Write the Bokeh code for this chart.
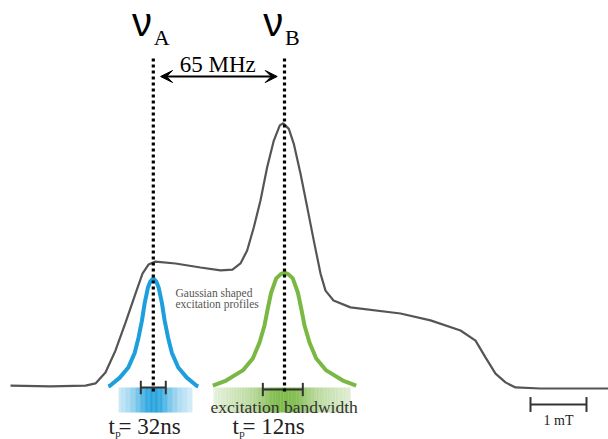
import numpy as np
from bokeh.plotting import figure
from bokeh.models import Range1d, Arrow, VeeHead
from bokeh.core.properties import value
from bokeh.embed import file_html
from bokeh.resources import INLINE

# ---- data: EPR echo-detected spectrum (field in mT, normalised intensity)
field_mT = [0.0, 0.714, 1.339, 1.518, 1.696, 1.875, 2.054, 2.232, 2.357, 2.464, 2.589,
            2.946, 3.393, 3.750, 3.964, 4.107, 4.226, 4.345, 4.464, 4.583, 4.702,
            4.809, 4.870, 4.970, 5.059, 5.179, 5.298, 5.416, 5.536, 5.625, 5.768,
            6.071, 6.964, 7.5, 8.036, 8.304, 8.482, 8.661, 8.839, 9.018, 9.464, 10.679]
intensity = [0.011, 0.008, 0.011, 0.019, 0.060, 0.143, 0.248, 0.357, 0.432, 0.466, 0.477,
             0.470, 0.455, 0.444, 0.447, 0.470, 0.519, 0.606, 0.707, 0.832, 0.932,
             0.989, 0.997, 0.976, 0.920, 0.807, 0.682, 0.556, 0.432, 0.368, 0.331,
             0.305, 0.282, 0.256, 0.218, 0.180, 0.117, 0.056, 0.023, 0.004, 0.0, 0.0]

# observer positions (mT)
nu_labels = ["A", "B"]
nu_pos = [2.55, 4.893]
separation_label = "65 MHz"

# excitation profiles (half profile: offset from centre in mT, intensity)
profA_offset = [0, 0.054, 0.095, 0.155, 0.202, 0.263, 0.330, 0.446, 0.598, 0.768, 0.804]
profA_int = [0.414, 0.402, 0.380, 0.320, 0.256, 0.192, 0.135, 0.079, 0.041, 0.011, 0.008]
profB_offset = [0, 0.071, 0.148, 0.238, 0.298, 0.357, 0.446, 0.566, 0.745, 1.042, 1.280]
profB_int = [0.436, 0.429, 0.414, 0.361, 0.301, 0.237, 0.173, 0.113, 0.068, 0.030, 0.011]

bandwidth_mT = [0.446, 0.714]
pulse_lengths = ["32ns", "12ns"]
scale_bar_mT = 1.0
scale_label = "1 mT"

BLUE = "#1c9fdc"
GREEN = "#7ab844"
DARK = "#333333"


def X(px):
    return (px - 10) / 56.0


def Y(py):
    return (388 - py) / 266.0


def TY(py, size):
    # baseline position in pixels -> data y (compensating renderer offset)
    return Y(py - 0.38 * size)


p = figure(width=608, height=439, x_range=Range1d(X(0), X(608)), y_range=Range1d(Y(439), Y(0)),
           output_backend="svg", toolbar_location=None, min_border=0,
           x_axis_type=None, y_axis_type=None)
p.grid.visible = False
p.outline_line_color = None
p.background_fill_color = "white"

serif = value("Liberation Serif")


def txt(xs, py, texts, size, font=serif, align="left", color="#222222"):
    p.text(x=xs, y=[TY(py, size)] * len(xs), text=texts, text_font=font,
           text_font_size=f"{size}px", text_align=align, text_baseline="alphabetic",
           text_color=color)


# ---- gradient bands under the profiles
def band(center, offs, ints, left, right, color, power):
    offs_full = [-o for o in offs[::-1]] + offs[1:]
    ints_full = ints[::-1] + ints[1:]
    edges = np.linspace(left, right, 90)
    mids = 0.5 * (edges[:-1] + edges[1:])
    a = np.interp(mids - center, offs_full, ints_full, left=0, right=0) / max(ints)
    a = np.clip(a, 0, 1) ** power
    p.quad(left=edges[:-1], right=edges[1:] + 0.005, top=Y(387), bottom=Y(412),
           fill_color=color, fill_alpha=a * 0.95, line_color=None)


band(nu_pos[0], profA_offset, profA_int, X(118), X(192), BLUE, 0.7)
band(nu_pos[1], profB_offset, profB_int, X(208), X(350), GREEN, 0.5)

# ---- spectrum
p.line(field_mT, intensity, line_color="#555555", line_width=2.2)

# ---- excitation profiles
for c, offs, ints, col in [(nu_pos[0], profA_offset, profA_int, BLUE),
                           (nu_pos[1], profB_offset, profB_int, GREEN)]:
    xs = [c - o for o in offs[::-1]] + [c + o for o in offs[1:]]
    ys = ints[::-1] + ints[1:]
    p.line(xs, ys, line_color=col, line_width=4)

# ---- bandwidth bars
cap = 0.025
for c, bw, yb in [(nu_pos[0], bandwidth_mT[0], Y(387)), (nu_pos[1] - 0.03, bandwidth_mT[1], Y(389))]:
    x0, x1 = c - bw / 2, c + bw / 2
    p.segment(x0=[x0, x0, x1], y0=[yb, yb - cap, yb - cap], x1=[x1, x0, x1], y1=[yb, yb + cap, yb + cap],
              line_color=DARK, line_width=2)

# ---- dotted observer lines
p.segment(x0=nu_pos, y0=[Y(58)] * 2, x1=nu_pos, y1=[Y(392)] * 2,
          line_color="black", line_width=3.2, line_dash="3 3")

# ---- nu labels
txt([n - 0.2 for n in nu_pos], 37, ["\u03bd", "\u03bd"], 40,
    font=value("Liberation Sans"), align="center", color="black")
txt([n + 0.01 for n in nu_pos], 45, nu_labels, 22, color="black")

# ---- separation arrow
p.add_layout(Arrow(start=VeeHead(size=12, fill_color="black", line_color="black"),
                   end=VeeHead(size=12, fill_color="black", line_color="black"),
                   x_start=nu_pos[0] + 0.13, y_start=Y(76), x_end=nu_pos[1] - 0.13, y_end=Y(76),
                   line_color="black", line_width=2))
txt([(nu_pos[0] + nu_pos[1]) / 2 - 0.02], 73, [separation_label], 23, align="center", color="black")

# ---- annotations
txt([X(175)], 297, ["Gaussian shaped"], 11.5, color="#555555")
txt([X(175)], 308, ["excitation profiles"], 11.5, color="#555555")
txt([X(210)], 413, ["excitation bandwidth"], 17.5, color="#333333")

# pulse lengths
tx = [X(108), X(232)]
txt(tx, 435, ["t", "t"], 23)
txt([t + 0.12 for t in tx], 437, ["p", "p"], 11)
txt([t + 0.18 for t in tx], 435, ["= " + s for s in pulse_lengths], 23)

# ---- scale bar
sx0 = X(530)
sx1 = sx0 + scale_bar_mT
sy = Y(404)
p.segment(x0=[sx0, sx0, sx1], y0=[sy, sy - 0.028, sy - 0.028], x1=[sx1, sx0, sx1], y1=[sy, sy + 0.028, sy + 0.028],
          line_color=DARK, line_width=2)
txt([(sx0 + sx1) / 2], 425, [scale_label], 14, align="center")

open("out.html", "w").write(file_html(p, INLINE))
